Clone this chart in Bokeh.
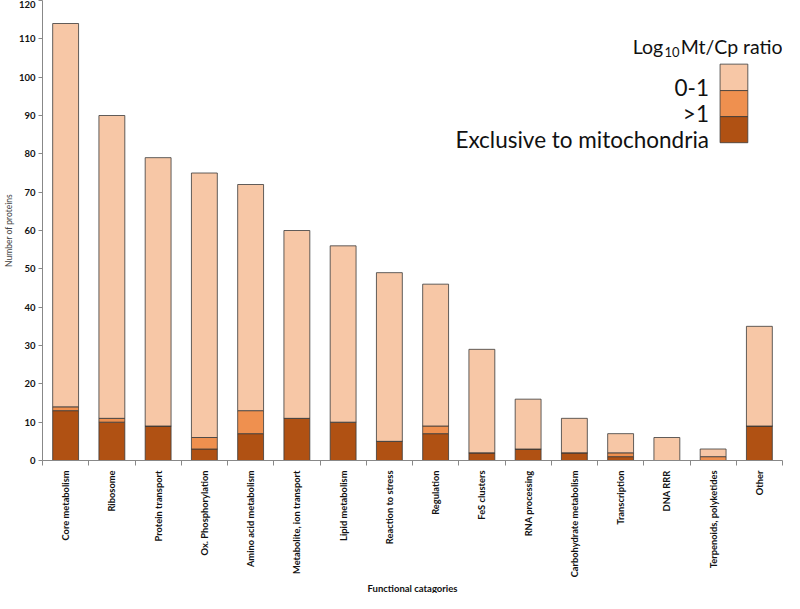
import math
from bokeh.plotting import figure
from bokeh.models import Range1d, FixedTicker, Label, BoxAnnotation, ColumnDataSource, Title
from bokeh.embed import file_html
from bokeh.resources import INLINE

categories = ["Core metabolism", "Ribosome", "Protein transport", "Ox. Phosphorylation",
              "Amino acid metabolism", "Metabolite, ion transport", "Lipid metabolism",
              "Reaction to stress", "Regulation", "FeS clusters", "RNA processing",
              "Carbohydrate metabolism", "Transcription", "DNA RRR",
              "Terpenoids, polyketides", "Other"]
totals = [114, 90, 79, 75, 72, 60, 56, 49, 46, 29, 16, 11, 7, 6, 3, 35]
exclusive = [13, 10, 9, 3, 7, 11, 10, 5, 7, 2, 3, 2, 1, 0, 0, 9]
above_one = [1, 1, 0, 3, 6, 0, 0, 0, 2, 0, 0, 0, 1, 0, 1, 0]
y_ticks = [0, 10, 20, 30, 40, 50, 60, 70, 80, 90, 100, 110, 120]

legend_labels = ["0-1", ">1", "Exclusive to mitochondria"]
C_LIGHT, C_MED, C_DARK = "#F7C7A6", "#EF904F", "#B05113"

zero_to_one = [t - e - a for t, e, a in zip(totals, exclusive, above_one)]
n = len(categories)
xs = [i + 0.5 for i in range(n)]

source = ColumnDataSource(dict(x=xs, exclusive=exclusive, above_one=above_one,
                               zero_to_one=zero_to_one))

p = figure(width=784, height=593, output_backend="svg", toolbar_location=None,
           x_range=Range1d(0, n), y_range=Range1d(0, 120),
           min_border_left=0, min_border_right=2, min_border_top=0, min_border_bottom=0)
p.outline_line_color = None
p.xgrid.visible = False
p.ygrid.visible = False

p.vbar_stack(["exclusive", "above_one", "zero_to_one"], x="x", width=0.56,
             color=[C_DARK, C_MED, C_LIGHT], line_color="#3a3a3a", line_width=0.8,
             source=source)

# x axis: labels at centres, ticks at category boundaries
p.xaxis.ticker = FixedTicker(ticks=xs, minor_ticks=list(range(n + 1)))
p.xaxis.major_label_overrides = {x: c for x, c in zip(xs, categories)}
p.xaxis.major_label_orientation = math.pi / 2
p.xaxis.major_tick_in = 0
p.xaxis.major_tick_out = 0
p.xaxis.minor_tick_in = 0
p.xaxis.minor_tick_out = 5
p.xaxis.minor_tick_line_color = "#888888"
p.xaxis.axis_line_color = "#888888"
p.xaxis.major_label_standoff = 5
p.xaxis.major_label_text_font = "Lato"
p.xaxis.major_label_text_font_style = "bold"
p.xaxis.major_label_text_font_size = "9.3px"
p.xaxis.major_label_text_color = "#111111"

# x axis title as a title panel below the axis
p.add_layout(Title(text="Functional catagories", align="center", standoff=0, offset=7,
                   vertical_align="bottom", padding=0,
                   text_font="Lato", text_font_style="bold", text_font_size="9.5px",
                   text_color="#111111"), "below")

# y axis
p.yaxis.ticker = FixedTicker(ticks=y_ticks)
p.yaxis.major_tick_in = 0
p.yaxis.major_tick_out = 4
p.yaxis.minor_tick_line_color = None
p.yaxis.axis_line_color = "#888888"
p.yaxis.major_tick_line_color = "#888888"
p.yaxis.major_label_standoff = 3
p.yaxis.major_label_text_font = "Lato"
p.yaxis.major_label_text_font_style = "bold"
p.yaxis.major_label_text_font_size = "9.5px"
p.yaxis.major_label_text_color = "#111111"
p.yaxis.axis_label = "Number of proteins"
p.yaxis.axis_label_text_font = "Lato"
p.yaxis.axis_label_text_font_style = "normal"
p.yaxis.axis_label_text_font_size = "8.5px"
p.yaxis.axis_label_standoff = 2

# legend (drawn by hand: labels to the left of a stacked swatch)
p.add_layout(Label(x=13.42, y=108.1, text="Log", text_align="right",
                   text_baseline="alphabetic", text_font="Lato",
                   text_font_size="19.5px", text_color="#111111"))
p.add_layout(Label(x=13.45, y=106.6, text="10", text_align="left",
                   text_baseline="alphabetic", text_font="Lato",
                   text_font_size="13px", text_color="#111111"))
p.add_layout(Label(x=13.8, y=108.1, text="Mt/Cp ratio", text_align="left",
                   text_baseline="alphabetic", text_font="Lato",
                   text_font_size="19.5px", text_color="#111111"))
label_y = [97.4, 90.6, 83.8]
for txt, ly in zip(legend_labels, label_y):
    p.add_layout(Label(x=14.41, y=ly, text=txt, text_align="right",
                       text_baseline="middle", text_font="Lato",
                       text_font_size="22.5px", text_color="#111111"))
sw_edges = [103.4, 96.5, 89.7, 82.9]
for col, top, bot in zip([C_LIGHT, C_MED, C_DARK], sw_edges[:-1], sw_edges[1:]):
    p.add_layout(BoxAnnotation(left=14.65, right=15.25, top=top, bottom=bot,
                               fill_color=col, fill_alpha=1.0,
                               line_color="#3a3a3a", line_width=0.8, line_alpha=1.0))

open("out.html", "w").write(file_html(p, INLINE))
